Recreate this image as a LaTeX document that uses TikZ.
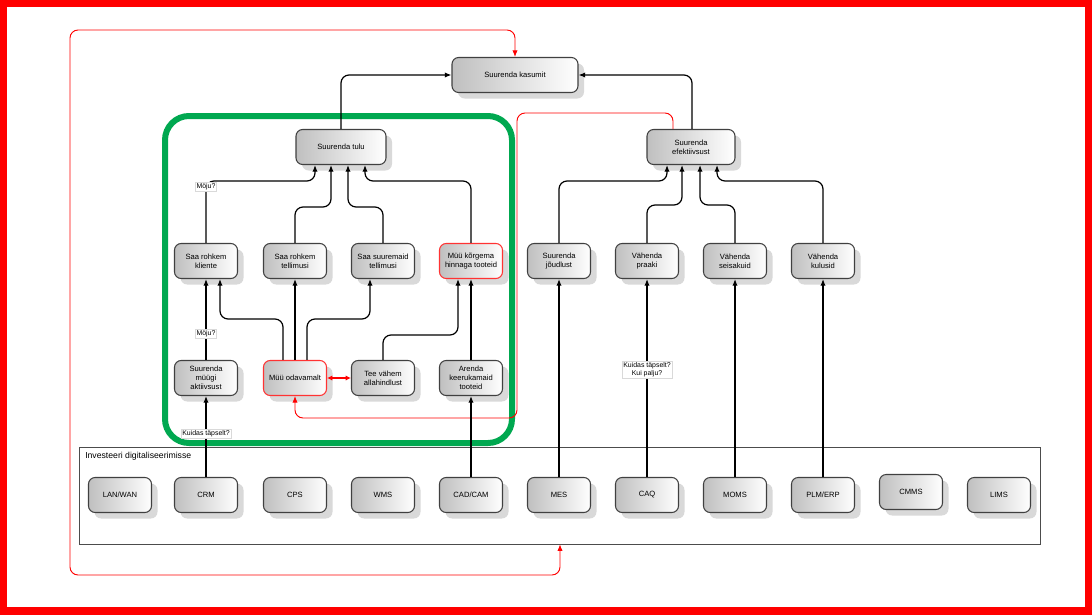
\documentclass[tikz,border=0pt]{standalone}
\usepackage{fontspec}
\setmainfont{Liberation Sans}
\usetikzlibrary{shadows,arrows.meta,calc}
\begin{document}
\begin{tikzpicture}[x=0.75pt,y=-0.75pt,
  box/.style={draw=black!75,thick,rounded corners=5pt,minimum width=47.25pt,minimum height=26.25pt,
    left color=black!25,right color=white,align=center,font=\fontsize{5.7}{6.7}\selectfont,inner sep=1pt,
    drop shadow={shadow xshift=4.5pt,shadow yshift=-4.5pt,opacity=1,fill=black!15}},
  redbox/.style={box,draw=red!80},
  con/.style={draw=black,line width=0.9pt,rounded corners=6pt,-{Latex[length=5pt,width=4pt]}},
  rcon/.style={draw=red,line width=0.7pt,rounded corners=6pt,-{Latex[length=5pt,width=4pt]}},
  lbl/.style={fill=white,draw=black!15,inner sep=0.8pt,font=\fontsize{5.2}{6}\selectfont,align=center}]
\useasboundingbox (0,0) rectangle (1092,614);
\draw[red,line width=6pt] (3,3) rectangle (1089,611);
% frame
\node[draw=black!70,thin,minimum width=720.75pt,minimum height=72.75pt,inner sep=0] (frame) at (559.5,495.5) {};
\node[anchor=north west,font=\fontsize{6.5}{7.5}\selectfont,inner sep=0] (ftitle) at (85,452) {Investeeri digitaliseerimisse};
% green
\draw[draw={rgb,255:red,0;green,168;blue,80},line width=4.5pt,rounded corners=18pt] (165,116) rectangle (512,443);
% nodes
\node[box,minimum width=94.5pt] (kas) at (515,75) {Suurenda kasumit};
\node[box,minimum width=67.5pt] (tulu) at (341,147) {Suurenda tulu};
\node[box,minimum width=66pt] (eff) at (691,147) {Suurenda\\efektiivsust};
\foreach \n/\x/\t/\s in {klie/206/{Saa rohkem\\kliente}/box, tell/295/{Saa rohkem\\tellimusi}/box,
  suur/383/{Saa suuremaid\\tellimusi}/box, korg/471/{Müü kõrgema\\hinnaga tooteid}/redbox,
  joud/559/{Suurenda\\jõudlust}/box, praa/647/{Vähenda\\praaki}/box, seis/735/{Vähenda\\seisakuid}/box,
  kulu/823/{Vähenda\\kulusid}/box}
  \node[\s] (\n) at (\x,261) {\t};
\foreach \n/\x/\t/\s in {akt/206/{Suurenda\\müügi\\aktiivsust}/box, odav/295/{Müü odavamalt}/redbox,
  allh/383/{Tee vähem\\allahindlust}/box, aren/471/{Arenda\\keerukamaid\\tooteid}/box}
  \node[\s] (\n) at (\x,378) {\t};
\foreach \n/\x/\y/\t in {lan/120/495/{LAN/WAN}, crm/206/495/CRM, cps/295/495/CPS, wms/383/495/WMS,
  cad/471/495/{CAD/CAM}, mes/559/495/MES, caq/647/495/CAQ, moms/735/495/MOMS, plm/823/495/{PLM/ERP},
  cmms/911/492/CMMS, lims/999/495/LIMS}
  \node[box] (\n) at (\x,\y) {\t};
% top connectors
\draw[con] (tulu.north) |- (kas.west);
\draw[con] (eff.north -| 692,0) |- (kas.east);
\draw[rcon] (673,0 |- eff.north) |- (517,113) |- (295,418) -- (odav.south -| 295,0);
% to tulu
\draw[con] (klie.north) |- (315,181) -- (315,0 |- tulu.south);
\node[lbl] (m1) at (206,187) {Möju?};
\draw[con] (tell.north) |- (331,207) -- (331,0 |- tulu.south);
\draw[con] (suur.north) |- (348,207) -- (348,0 |- tulu.south);
\draw[con] (korg.north) |- (365,181) -- (365,0 |- tulu.south);
% to eff
\draw[con] (joud.north) |- (667,181) -- (667,0 |- eff.south);
\draw[con] (praa.north) |- (682,205) -- (682,0 |- eff.south);
\draw[con] (seis.north) |- (700,205) -- (700,0 |- eff.south);
\draw[con] (kulu.north) |- (717,181) -- (717,0 |- eff.south);
% green inner
\draw[con] (akt.north) -- (klie.south);
\node[lbl] (m2) at (206,334) {Möju?};
\draw[con] (283,0 |- odav.north) |- (220,319) -- (220,0 |- klie.south);
\draw[con] (odav.north) -- (tell.south);
\draw[con] (307,0 |- odav.north) |- (370,319) -- (370,0 |- suur.south);
\draw[con] (allh.north) |- (458,335) -- (458,0 |- korg.south);
\draw[con] (aren.north) -- (korg.south);
\draw[red,line width=0.9pt,{Latex[length=4pt,width=4pt]}-{Latex[length=4pt,width=4pt]}] (odav.east) -- (allh.west);
% bottom
\draw[con] (crm.north) -- (akt.south);
\node[lbl] (k1) at (206,434) {Kuidas täpselt?};
\draw[con] (cad.north) -- (aren.south);
\draw[con] (mes.north) -- (joud.south);
\draw[con] (caq.north) -- (praa.south);
\node[lbl] (k2) at (647,370) {Kuidas täpselt?\\Kui palju?};
\draw[con] (moms.north) -- (seis.south);
\draw[con] (plm.north) -- (kulu.south);
% loop
\draw[rcon,{Latex[length=5pt,width=4pt]}-{Latex[length=5pt,width=4pt]}] (kas.north -| 515,0) |- (70,30) |- (560,575) -- (frame.south -| 560,0);
\end{tikzpicture}
\end{document}
